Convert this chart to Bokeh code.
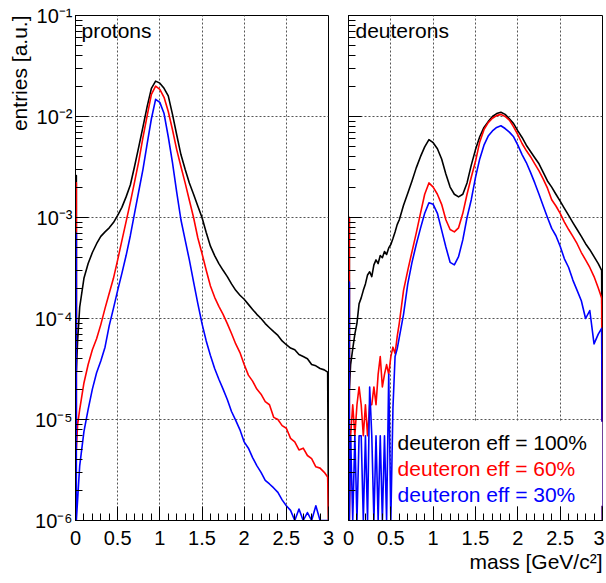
import math
from bokeh.plotting import figure
from bokeh.models import (Range1d, SingleIntervalTicker, CustomJSTickFormatter,
                          Label, BoxAnnotation, Title)
from bokeh.layouts import row
from bokeh.embed import file_html
from bokeh.resources import INLINE

# ---------------- data ----------------
# protons panel: bin positions (GeV/c^2)
P_X = [0.0, 0.0, 0.01, 0.01, 0.025] + [round(0.05 * k, 3) for k in range(1, 60)] + [2.99, 3.0]

P_BLACK = [0, 2.6e-3, 2.6e-3, 3.0e-5, 6.0e-5,
           1.3e-4, 2.5e-4, 3.5e-4, 4.5e-4, 5.5e-4, 6.5e-4, 7.2e-4, 7.9e-4, 8.9e-4, 1.05e-3,
           1.26e-3, 1.6e-3, 2.1e-3, 3.2e-3, 5.0e-3, 7.9e-3, 1.26e-2, 1.9e-2, 2.24e-2, 2.14e-2,
           1.9e-2, 1.6e-2, 1.05e-2, 6.6e-3, 4.2e-3, 3.0e-3, 2.2e-3, 1.7e-3, 1.3e-3, 1.0e-3,
           7.1e-4, 5.2e-4, 4.2e-4, 3.5e-4, 3.0e-4, 2.6e-4, 2.2e-4, 1.9e-4, 1.7e-4, 1.55e-4,
           1.38e-4, 1.23e-4, 1.1e-4, 1.0e-4, 8.9e-5, 8.1e-5, 7.4e-5, 6.8e-5, 6.0e-5, 5.5e-5,
           5.1e-5, 4.9e-5, 4.4e-5, 4.2e-5, 4.0e-5, 3.5e-5, 3.4e-5, 3.2e-5, 3.1e-5,
           2.95e-5, 0]

P_RED = [0, 2.2e-3, 2.2e-3, 5.0e-6, 8.9e-6,
         1.26e-5, 2.3e-5, 3.5e-5, 4.9e-5, 6.3e-5, 8.7e-5, 1.26e-4, 1.78e-4, 2.5e-4, 3.8e-4,
         5.9e-4, 9.1e-4, 1.41e-3, 2.24e-3, 3.6e-3, 6.2e-3, 1.02e-2, 1.66e-2, 2.0e-2, 1.86e-2,
         1.55e-2, 1.12e-2, 7.4e-3, 4.7e-3, 3.2e-3, 2.2e-3, 1.48e-3, 1.0e-3, 6.3e-4, 4.4e-4,
         3.0e-4, 2.1e-4, 1.62e-4, 1.32e-4, 1.1e-4, 8.9e-5, 7.1e-5, 5.6e-5, 4.6e-5, 3.5e-5,
         2.75e-5, 2.4e-5, 2.0e-5, 1.78e-5, 1.5e-5, 1.4e-5, 1.05e-5, 1.0e-5, 8.7e-6, 8.2e-6,
         6.5e-6, 6.0e-6, 5.0e-6, 5.2e-6, 4.4e-6, 4.1e-6, 3.4e-6, 3.3e-6, 3.0e-6,
         2.7e-6, 0]

P_BLUE = [0, 7.0e-4, 7.0e-4, 0, 1.6e-6,
          3.5e-6, 7.6e-6, 1.26e-5, 2.0e-5, 2.9e-5, 3.8e-5, 5.2e-5, 8.5e-5, 1.26e-4, 1.9e-4,
          2.8e-4, 4.2e-4, 6.6e-4, 1.1e-3, 1.82e-3, 3.0e-3, 5.4e-3, 9.5e-3, 1.48e-2, 1.38e-2,
          1.07e-2, 6.3e-3, 3.5e-3, 1.78e-3, 9.5e-4, 6.0e-4, 3.8e-4, 2.3e-4, 1.41e-4, 8.9e-5,
          6.0e-5, 4.3e-5, 3.2e-5, 2.5e-5, 2.0e-5, 1.58e-5, 1.2e-5, 9.8e-6, 7.9e-6, 6.0e-6,
          5.2e-6, 4.2e-6, 3.5e-6, 3.0e-6, 2.5e-6, 2.3e-6, 2.1e-6, 1.9e-6, 1.6e-6, 1.4e-6,
          1.26e-6, 0, 1.3e-6, 0, 1.2e-6, 0, 1.4e-6, 0, 0,
          0, 0]

# deuterons panel: bin positions (GeV/c^2)
D_X = ([0.0, 0.0, 0.01, 0.01] + [round(0.025 * k, 3) for k in range(1, 25)]
       + [round(0.05 * k, 3) for k in range(13, 60)] + [2.99, 3.0])

D_BLACK = [0, 1.0e-3, 1.0e-3, 2.0e-5,
           3.5e-5, 5.0e-5, 7.0e-5, 9.0e-5, 1.4e-4, 1.6e-4, 1.9e-4, 2.2e-4, 2.7e-4, 2.9e-4, 2.6e-4, 3.4e-4,
           3.8e-4, 3.5e-4, 4.2e-4, 4.0e-4, 4.6e-4, 4.3e-4, 5.0e-4, 5.4e-4, 6.2e-4, 7.2e-4, 8.5e-4, 9.5e-4,
           1.32e-3, 1.74e-3, 2.3e-3, 3.1e-3, 4.0e-3, 5.0e-3, 5.9e-3, 5.5e-3, 4.8e-3, 3.8e-3,
           2.7e-3, 2.0e-3, 1.7e-3, 1.6e-3, 1.7e-3, 2.2e-3, 3.3e-3, 4.7e-3, 6.3e-3, 7.8e-3,
           8.9e-3, 1.0e-2, 1.07e-2, 1.1e-2, 1.05e-2, 9.5e-3, 8.5e-3, 7.2e-3, 6.2e-3, 5.2e-3,
           4.5e-3, 3.9e-3, 3.4e-3, 2.8e-3, 2.3e-3, 2.0e-3, 1.7e-3, 1.45e-3, 1.23e-3, 1.05e-3,
           8.9e-4, 7.6e-4, 6.5e-4, 5.5e-4, 4.8e-4, 4.1e-4, 3.5e-4,
           3.0e-4, 0]

D_RED = [0, 1.0e-3, 1.0e-3, 0,
         6.9e-6, 1.4e-5, 6.9e-6, 1.4e-5, 2.1e-5, 1.4e-5, 6.9e-6, 1.4e-5, 6.9e-6, 1.4e-5, 1.4e-5, 2.1e-5,
         1.4e-5, 2.8e-5, 4.2e-5, 2.1e-5, 2.8e-5, 3.5e-5, 2.8e-5, 4.2e-5, 5.2e-5, 4.5e-5, 6.6e-5, 9.0e-5,
         1.9e-4, 3.0e-4, 4.6e-4, 7.0e-4, 1.1e-3, 1.7e-3, 2.2e-3, 2.0e-3, 1.7e-3, 1.35e-3,
         9.5e-4, 7.6e-4, 7.2e-4, 7.9e-4, 1.1e-3, 1.7e-3, 2.5e-3, 3.6e-3, 5.6e-3, 7.4e-3,
         8.7e-3, 9.6e-3, 1.02e-2, 1.05e-2, 1.0e-2, 9.2e-3, 7.9e-3, 6.6e-3, 5.4e-3, 4.6e-3,
         4.0e-3, 3.4e-3, 2.9e-3, 2.4e-3, 1.95e-3, 1.5e-3, 1.3e-3, 1.1e-3, 9.0e-4, 7.6e-4,
         6.5e-4, 5.5e-4, 4.5e-4, 3.8e-4, 3.2e-4, 2.6e-4, 2.0e-4,
         1.6e-4, 0]

D_BLUE = [0, 2.3e-4, 2.3e-4, 0,
          6.9e-6, 0, 6.9e-6, 0, 6.9e-6, 6.9e-6, 0, 6.9e-6, 0, 2.1e-5, 6.9e-6, 0,
          6.9e-6, 0, 6.9e-6, 0, 6.9e-6, 0, 2.8e-5, 0, 1.3e-5, 4.2e-5, 5.0e-5, 6.5e-5,
          1.1e-4, 2.2e-4, 3.6e-4, 5.4e-4, 7.8e-4, 1.1e-3, 1.4e-3, 1.35e-3, 1.1e-3, 7.5e-4,
          5.1e-4, 3.6e-4, 3.4e-4, 4.1e-4, 6.0e-4, 1.0e-3, 1.5e-3, 2.5e-3, 3.8e-3, 5.2e-3,
          6.4e-3, 7.2e-3, 7.8e-3, 8.1e-3, 7.6e-3, 7.0e-3, 6.3e-3, 5.2e-3, 4.2e-3, 3.5e-3,
          2.8e-3, 2.2e-3, 1.7e-3, 1.3e-3, 1.0e-3, 7.8e-4, 6.6e-4, 5.2e-4, 3.9e-4, 3.2e-4,
          2.4e-4, 1.9e-4, 1.5e-4, 1.0e-4, 1.2e-4, 5.6e-5, 7.0e-5,
          8.0e-5, 0]

LEGEND_TEXTS = ["deuteron eff = 100%", "deuteron eff = 60%", "deuteron eff = 30%"]
COLORS = ["#000000", "#ff0000", "#0000ff"]

# ---------------- style ----------------
Y_MIN, Y_MAX = 1e-6, 1e-1
FONT = "Liberation Sans"
H = 580
TOP = 15
FRAME_H = 505

SUP_JS = """
const sup = {"-": "\u207b", "0": "\u2070", "1": "\u00b9", "2": "\u00b2", "3": "\u00b3",
             "4": "\u2074", "5": "\u2075", "6": "\u2076", "7": "\u2077", "8": "\u2078", "9": "\u2079"};
const e = Math.round(Math.log10(tick));
return "10" + String(e).split("").map(c => sup[c]).join("");
"""


def make_panel(width, b_left, b_right, show_ylabels):
    p = figure(width=width, height=H, x_range=Range1d(0, 3), y_range=Range1d(Y_MIN, Y_MAX),
               y_axis_type="log", output_backend="svg", toolbar_location=None,
               min_border_left=b_left, min_border_right=b_right, min_border_top=TOP,
               min_border_bottom=H - TOP - FRAME_H)
    p.background_fill_color = "white"
    p.border_fill_color = "white"
    p.outline_line_color = "black"
    p.outline_line_width = 1

    xa, ya = p.xaxis[0], p.yaxis[0]
    ticker = SingleIntervalTicker(interval=0.5, num_minor_ticks=5)
    xa.ticker = ticker
    p.xgrid[0].ticker = ticker
    xa.formatter = CustomJSTickFormatter(code="return String(Math.round(tick * 10) / 10);")
    for ax in (xa, ya):
        ax.axis_line_color = "black"
        ax.major_tick_line_color = "black"
        ax.minor_tick_line_color = "black"
        ax.major_tick_out = 0
        ax.minor_tick_out = 0
        ax.major_label_text_font = FONT
        ax.major_label_text_color = "black"
        ax.major_label_text_font_size = "20px"
    xa.major_tick_in = 14
    xa.minor_tick_in = 7
    ya.major_tick_in = 13
    ya.minor_tick_in = 7
    xa.major_label_standoff = 10
    if show_ylabels:
        ya.formatter = CustomJSTickFormatter(code=SUP_JS)
        ya.major_label_standoff = 3
    else:
        ya.formatter = CustomJSTickFormatter(code="return '';")
        ya.major_label_text_color = None
        ya.major_label_standoff = 0

    for g in (p.xgrid[0], p.ygrid[0]):
        g.grid_line_color = "#555555"
        g.grid_line_dash = "2 2"
        g.grid_line_width = 1
    return p


def draw(p, xs, series):
    for vals, col in zip(series, COLORS):
        ys = [max(v, Y_MIN) for v in vals]
        p.line(xs, ys, line_color=col, line_width=1.6, line_join="round")


left = make_panel(338, 75, 10, True)
draw(left, P_X, [P_BLACK, P_RED, P_BLUE])
left.add_layout(Label(x=6, y=FRAME_H - 3, x_units="screen", y_units="screen", text="protons",
                      text_font=FONT, text_font_size="21px", text_baseline="top",
                      text_align="left", text_color="black"))
left.add_layout(Title(text="entries [a.u.]", align="right", text_font=FONT,
                      text_font_size="21px", text_font_style="normal", text_color="black",
                      standoff=2, offset=0), "left")

right = make_panel(266, 10, 2, False)
draw(right, D_X, [D_BLACK, D_RED, D_BLUE])
right.add_layout(Label(x=7, y=FRAME_H - 3, x_units="screen", y_units="screen", text="deuterons",
                       text_font=FONT, text_font_size="21px", text_baseline="top",
                       text_align="left", text_color="black"))
right.add_layout(BoxAnnotation(left=0.56, right=3.0, bottom=1.4e-6, top=9.5e-6,
                               fill_color="white", fill_alpha=1.0, line_color=None))
for i, (txt, col) in enumerate(zip(LEGEND_TEXTS, COLORS)):
    right.add_layout(Label(x=0.58, y=78 - 26 * i, x_units="data", y_units="screen", text=txt,
                           text_font=FONT, text_font_size="21px", text_baseline="alphabetic",
                           text_align="left", text_color=col))
right.add_layout(Title(text="mass [GeV/c\u00b2]", align="right", text_font=FONT,
                       text_font_size="21px", text_font_style="normal", text_color="black",
                       standoff=0, offset=0), "below")

layout = row(left, right)
open("out.html", "w").write(file_html(layout, INLINE))
